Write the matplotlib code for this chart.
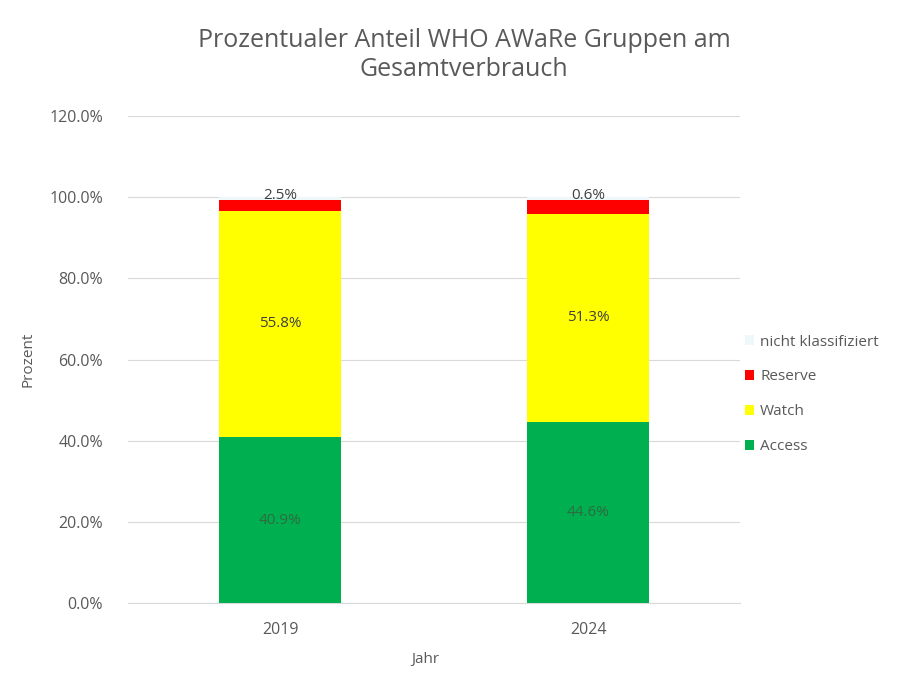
import matplotlib
matplotlib.use("Agg")
import matplotlib.pyplot as plt
import numpy as np

# data
years = ["2019", "2024"]
access = [40.9, 44.6]
watch = [55.8, 51.3]
reserve = [2.5, 3.5]
nicht = [0.8, 0.6]
top_labels = ["2.5%", "0.6%"]   # labels that sit on top of the bars
yticks = [0, 20, 40, 60, 80, 100, 120]

plt.rcParams['font.family'] = ['Open Sans', 'DejaVu Sans']

fig = plt.figure(figsize=(9.14, 6.73), dpi=100)
ax = fig.add_axes([0.140, 0.104, 0.670, 0.7236])

x = np.arange(len(years))
w = 0.396
c_access, c_watch, c_res, c_nicht = "#00B050", "#FFFF00", "#FF0000", "#EEF7F9"

b1 = np.array(access)
b2 = b1 + np.array(watch)
b3 = b2 + np.array(reserve)

ax.bar(x, access, w, color=c_access, label="Access", zorder=3)
ax.bar(x, watch, w, bottom=b1, color=c_watch, label="Watch", zorder=3)
ax.bar(x, reserve, w, bottom=b2, color=c_res, label="Reserve", zorder=3)
ax.bar(x, nicht, w, bottom=b3, color=c_nicht, label="nicht klassifiziert", zorder=3)

for i in range(len(years)):
    ax.text(x[i], access[i] / 2, f"{access[i]:.1f}%", ha="center", va="center",
            fontsize=11, color="#2f6b3f", zorder=4)
    ax.text(x[i], b1[i] + watch[i] / 2, f"{watch[i]:.1f}%", ha="center", va="center",
            fontsize=11, color="#404040", zorder=4)
    ax.text(x[i], 100.4, top_labels[i], ha="center", va="center",
            fontsize=11, color="#404040", zorder=4)

ax.set_xlim(-0.494, 1.494)
ax.set_ylim(0, 120)
ax.set_yticks(yticks)
ax.set_yticklabels([f"{t:.1f}%" for t in yticks])
ax.set_xticks(x)
ax.set_xticklabels(years)
ax.grid(axis="y", color="#D9D9D9", linewidth=0.8, zorder=0)
for s in ["top", "right", "left"]:
    ax.spines[s].set_visible(False)
ax.spines["bottom"].set_color("#D9D9D9")
ax.tick_params(length=0, colors="#595959", labelsize=11.5)
ax.tick_params(axis="y", pad=18)
ax.tick_params(axis="x", pad=14)

ax.set_ylabel("Prozent", fontsize=11, color="#595959", labelpad=10)
ax.set_xlabel("Jahr", fontsize=11, color="#595959")
ax.xaxis.set_label_coords(0.485, -0.1)

fig.text(0.508, 0.918, "Prozentualer Anteil WHO AWaRe Gruppen am\nGesamtverbrauch",
         ha="center", va="center", fontsize=18, color="#595959", linespacing=1.2)

h, l = ax.get_legend_handles_labels()
leg = fig.legend(h[::-1], l[::-1], loc="center left", bbox_to_anchor=(0.8, 0.414),
                 frameon=False, fontsize=11, labelcolor="#595959",
                 handlelength=0.6, handleheight=0.6, handletextpad=0.4, labelspacing=1.3)

fig.savefig("out.png", dpi=100)
